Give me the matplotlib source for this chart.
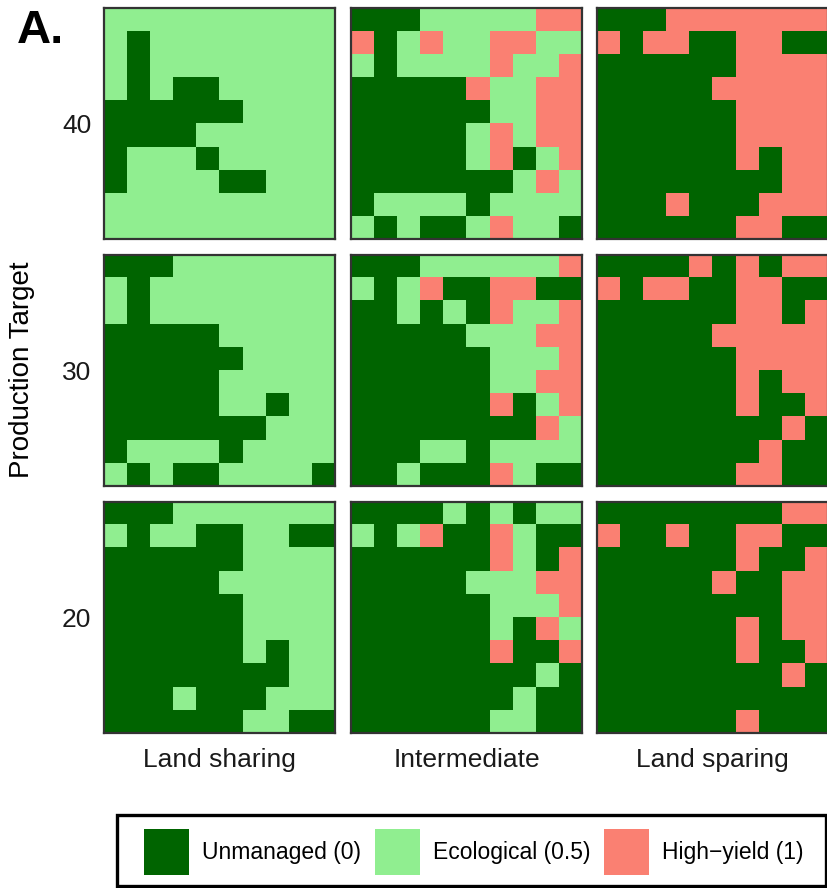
import matplotlib
matplotlib.use("Agg")
import matplotlib.pyplot as plt
import numpy as np
from matplotlib.colors import ListedColormap
from matplotlib.patches import Patch, Rectangle

plt.rcParams["font.family"] = ["Liberation Sans", "DejaVu Sans"]

# cell codes: U = unmanaged (0), E = ecological (0.5), H = high-yield (1)
code_values = {"U": 0.0, "E": 0.5, "H": 1.0}

targets = [40, 30, 20]
scenarios = ["Land sharing", "Intermediate", "Land sparing"]
legend_labels = ["Unmanaged (0)", "Ecological (0.5)", "High\u2212yield (1)"]
colors = ["#006400", "#90EE90", "salmon"]

sharing_40 = [
    "EEEEEEEEEE",
    "EUEEEEEEEE",
    "EUEEEEEEEE",
    "EUEUUEEEEE",
    "UUUUUUEEEE",
    "UUUUEEEEEE",
    "UEEEUEEEEE",
    "UEEEEUUEEE",
    "EEEEEEEEEE",
    "EEEEEEEEEE",
]
inter_40 = [
    "UUUEEEEEHH",
    "HUEHEEHHEE",
    "EUEEEEHEEH",
    "UUUUUHEEHH",
    "UUUUUUEEHH",
    "UUUUUEHEHH",
    "UUUUUEHUEH",
    "UUUUUUUEHE",
    "UEEEEUEEEE",
    "EUEUUEHEEU",
]
sparing_40 = [
    "UUUHHHHHHH",
    "HUHHUUHHUU",
    "UUUUUUHHHH",
    "UUUUUHHHHH",
    "UUUUUUHHHH",
    "UUUUUUHHHH",
    "UUUUUUHUHH",
    "UUUUUUUUHH",
    "UUUHUUUHHH",
    "UUUUUUHHUU",
]
sharing_30 = [
    "UUUEEEEEEE",
    "EUEEEEEEEE",
    "EUEEEEEEEE",
    "UUUUUEEEEE",
    "UUUUUUEEEE",
    "UUUUUEEEEE",
    "UUUUUEEUEE",
    "UUUUUUUEEE",
    "UEEEEUEEEE",
    "EUEUUEEEEU",
]
inter_30 = [
    "UUUEEEEEEH",
    "EUEHUUHHUU",
    "UUEUEUHEEH",
    "UUUUUEEEHH",
    "UUUUUUEEEH",
    "UUUUUUEEHH",
    "UUUUUUHUEH",
    "UUUUUUUUHE",
    "UUUEEUEEEE",
    "UUEUUUHEUU",
]
sparing_30 = [
    "UUUUHUHUHH",
    "HUHHUUHHUU",
    "UUUUUUHHUH",
    "UUUUUHHHHH",
    "UUUUUUHHHH",
    "UUUUUUHUHH",
    "UUUUUUHUUH",
    "UUUUUUUUHU",
    "UUUUUUUHUU",
    "UUUUUUHHUU",
]
sharing_20 = [
    "UUUEEEEEEE",
    "EUEEUUEEUU",
    "UUUUUUEEEE",
    "UUUUUEEEEE",
    "UUUUUUEEEE",
    "UUUUUUEEEE",
    "UUUUUUEUEE",
    "UUUUUUUUEE",
    "UUUEUUUEEE",
    "UUUUUUEEUU",
]
inter_20 = [
    "UUUUEUEUEE",
    "EUEHUUHEUU",
    "UUUUUUHEUH",
    "UUUUUEEEHH",
    "UUUUUUEEEH",
    "UUUUUUEUHE",
    "UUUUUUHUUH",
    "UUUUUUUUEU",
    "UUUUUUUEUU",
    "UUUUUUEEUU",
]
sparing_20 = [
    "UUUUUUUUHH",
    "HUUHUUHHUU",
    "UUUUUUHUUH",
    "UUUUUHUUHH",
    "UUUUUUUUHH",
    "UUUUUUHUHH",
    "UUUUUUHUUH",
    "UUUUUUUUHU",
    "UUUUUUUUUU",
    "UUUUUUHUUU",
]

grids = {
    (40, "Land sharing"): sharing_40,
    (40, "Intermediate"): inter_40,
    (40, "Land sparing"): sparing_40,
    (30, "Land sharing"): sharing_30,
    (30, "Intermediate"): inter_30,
    (30, "Land sparing"): sparing_30,
    (20, "Land sharing"): sharing_20,
    (20, "Intermediate"): inter_20,
    (20, "Land sparing"): sparing_20,
}


def to_array(rows):
    return np.array([[code_values[c] for c in r] for r in rows])


def main() -> None:
    W, H = 828, 888
    fig = plt.figure(figsize=(W / 100, H / 100), dpi=100)
    cmap = ListedColormap(colors)

    lefts = [104, 351, 597]
    tops = [8, 255, 502]
    size = 231

    for i, target in enumerate(targets):
        for j, scen in enumerate(scenarios):
            ax = fig.add_axes([lefts[j] / W, 1 - (tops[i] + size) / H, size / W, size / H])
            ax.imshow(to_array(grids[(target, scen)]), cmap=cmap, vmin=0, vmax=1,
                      interpolation="nearest", aspect="auto")
            for sp in ax.spines.values():
                sp.set_color("#333333")
                sp.set_linewidth(1.6)
            ax.set_xticks([])
            ax.set_yticks([])
            if j == 0:
                ax.set_yticks([4.5])
                ax.set_yticklabels([str(target)], fontsize=19, color="#1a1a1a")
                ax.tick_params(axis="y", length=0, pad=9)
            if i == len(targets) - 1:
                ax.set_xticks([4.5])
                ax.set_xticklabels([scen], fontsize=19, color="#1a1a1a")
                ax.tick_params(axis="x", length=0, pad=11)

    fig.text(22 / W, 1 - 370 / H, "Production Target", rotation=90,
             ha="center", va="center", fontsize=20)
    fig.text(17 / W, 1 - 31 / H, "A.", ha="left", va="center",
             fontsize=34, fontweight="bold")

    handles = [Patch(facecolor=c, edgecolor="none") for c in colors]
    fig.legend(handles, legend_labels, loc="center",
               bbox_to_anchor=(474 / W, 1 - 852 / H), ncol=3, fontsize=16.5,
               handlelength=1.96, handleheight=2.65, handletextpad=0.57,
               columnspacing=0.61, borderpad=0.3, frameon=False)
    # legend box drawn separately so it can be wider than the entries
    fig.add_artist(Rectangle((117 / W, 1 - 886 / H), 709 / W, 71 / H,
                             transform=fig.transFigure, fill=False,
                             edgecolor="black", linewidth=2.4))

    fig.savefig("out.png", dpi=100)


if __name__ == "__main__":
    main()
